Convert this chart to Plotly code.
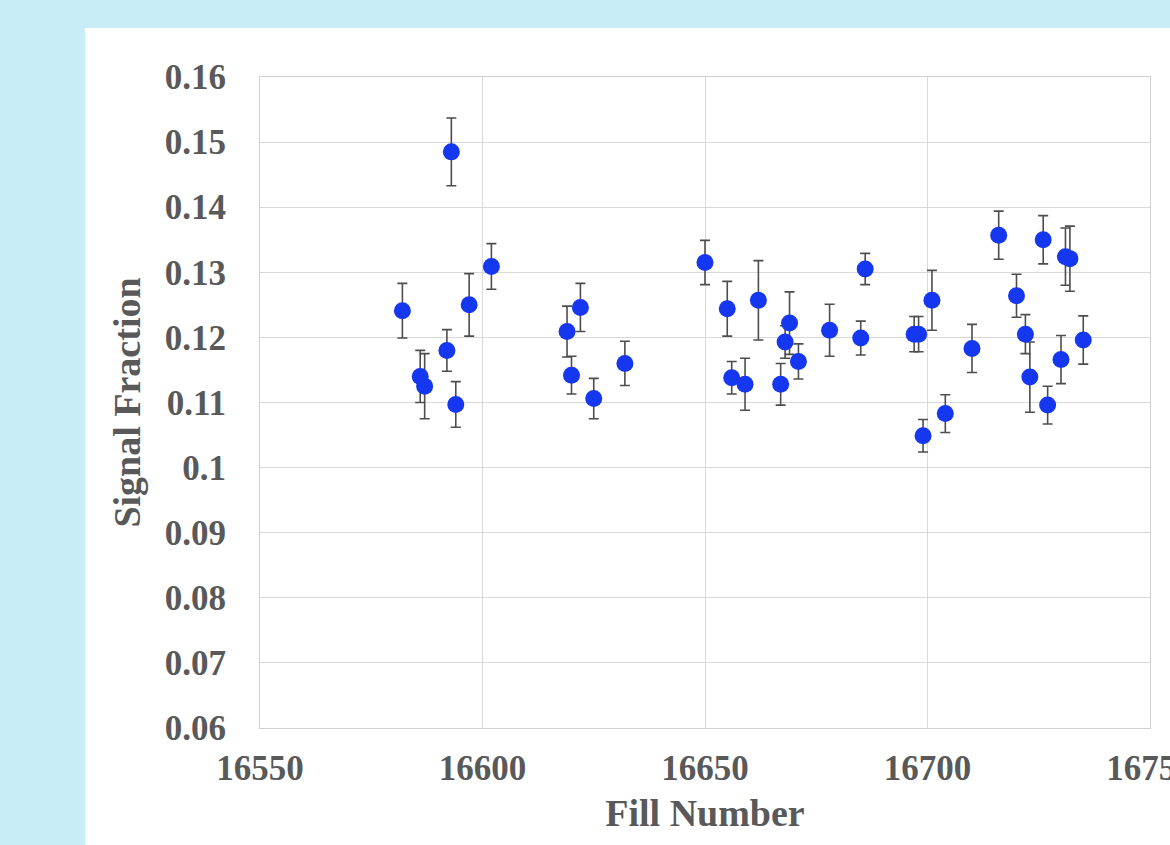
import plotly.graph_objects as go

fill = [16582, 16586, 16587, 16592, 16593, 16594, 16597, 16602,
        16619, 16620, 16622, 16625, 16632,
        16650, 16655, 16656, 16659, 16662, 16667, 16668, 16669, 16671, 16678, 16685, 16686,
        16697, 16698, 16699, 16701, 16704, 16710, 16716, 16720, 16722, 16723, 16726, 16727,
        16730, 16731, 16732, 16735]
frac = [0.1241, 0.1140, 0.1125, 0.1180, 0.1485, 0.1097, 0.1250, 0.1309,
        0.1209, 0.1142, 0.1246, 0.1106, 0.1160,
        0.1315, 0.1244, 0.1138, 0.1128, 0.1257, 0.1128, 0.1193, 0.1222, 0.1163, 0.1211, 0.1199, 0.1305,
        0.1205, 0.1205, 0.1049, 0.1257, 0.1083, 0.1183, 0.1357, 0.1264, 0.1205, 0.1139, 0.1350, 0.1096,
        0.1166, 0.1324, 0.1321, 0.1196]
err = [0.0042, 0.0040, 0.0050, 0.0032, 0.0052, 0.0035, 0.0048, 0.0035,
       0.0039, 0.0029, 0.0037, 0.0031, 0.0034,
       0.0034, 0.0042, 0.0025, 0.0040, 0.0061, 0.0032, 0.0025, 0.0048, 0.0027, 0.0040, 0.0026, 0.0024,
       0.0027, 0.0027, 0.0025, 0.0046, 0.0029, 0.0037, 0.0037, 0.0033, 0.0030, 0.0054, 0.0037, 0.0029,
       0.0037, 0.0044, 0.0050, 0.0037]

x_ticks = [16550, 16600, 16650, 16700, 16750]
y_ticks = [0.06, 0.07, 0.08, 0.09, 0.10, 0.11, 0.12, 0.13, 0.14, 0.15, 0.16]
y_labels = ["0.06", "0.07", "0.08", "0.09", "0.1", "0.11", "0.12", "0.13", "0.14", "0.15", "0.16"]

FONT = "Liberation Serif"
TXT = "#595959"
TICKFONT = dict(family=FONT, size=35, color=TXT, weight="bold")
TITLEFONT = dict(family=FONT, size=38, color=TXT, weight="bold")

fig = go.Figure()
fig.add_trace(go.Scatter(
    x=fill, y=frac, mode="markers",
    marker=dict(color="#1537f0", size=17, line=dict(width=0)),
    error_y=dict(type="data", array=err, visible=True, color="#4d4d4d",
                 thickness=1.6, width=5),
    showlegend=False,
))

fig.add_shape(type="rect", xref="paper", yref="paper",
              x0=-0.1966, x1=1.1, y0=-0.2, y1=1.0753,
              fillcolor="white", line=dict(width=0), layer="below")

fig.update_layout(
    width=1170, height=845,
    paper_bgcolor="#c8edf6", plot_bgcolor="white",
    margin=dict(l=260, r=20, t=77, b=117, autoexpand=False),
    font=dict(family=FONT, color=TXT),
    xaxis=dict(range=[16550, 16750], tickvals=x_ticks,
               ticktext=[str(v) for v in x_ticks],
               ticklabeloverflow="allow", automargin=False,
               showgrid=True, gridcolor="#d9d9d9", gridwidth=1,
               showline=True, linecolor="#d0d0d0", mirror=True, zeroline=False,
               tickfont=TICKFONT,
               ticks="outside", ticklen=9, tickcolor="rgba(0,0,0,0)",
               title=dict(text="Fill Number", font=TITLEFONT, standoff=12)),
    yaxis=dict(range=[0.06, 0.16], tickvals=y_ticks, ticktext=y_labels,
               automargin=False,
               showgrid=True, gridcolor="#d9d9d9", gridwidth=1,
               showline=True, linecolor="#d0d0d0", mirror=True, zeroline=False,
               tickfont=TICKFONT,
               ticks="outside", ticklen=26, tickcolor="rgba(0,0,0,0)",
               title=dict(text="Signal Fraction", font=TITLEFONT, standoff=12)),
)

fig.write_html("out.html", config={"displayModeBar": False},
               post_script="document.body.style.margin='0';")
